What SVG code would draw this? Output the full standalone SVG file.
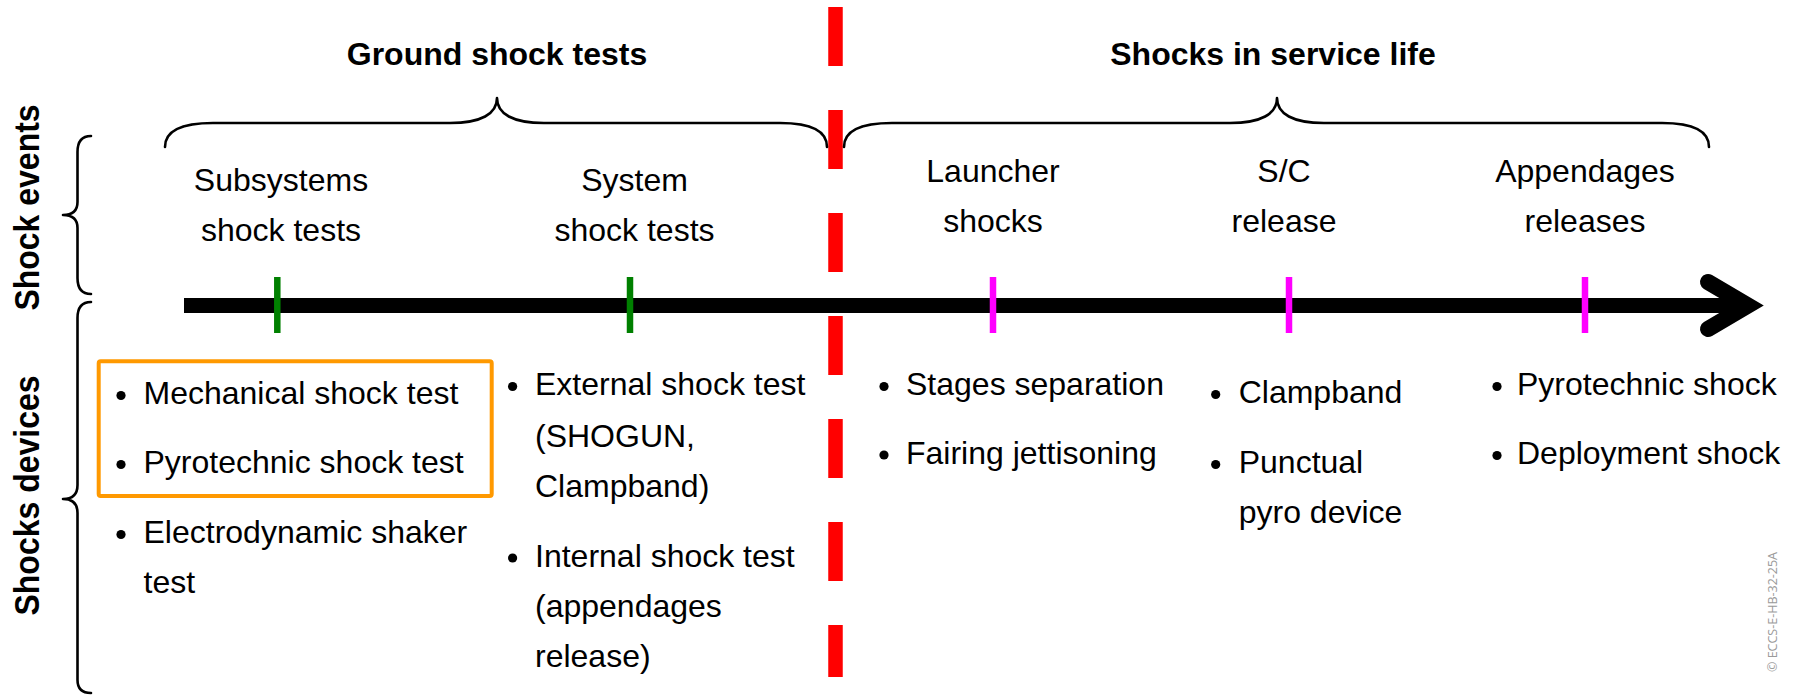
<svg xmlns="http://www.w3.org/2000/svg" width="1805" height="695" viewBox="0 0 1805 695">
<style>
text{font-family:"Liberation Sans",Arial,Helvetica,sans-serif;fill:#000}
.t{font-size:32px}
.h{font-size:32px;font-weight:bold}
.c{text-anchor:middle}
.brace{fill:none;stroke:#000;stroke-width:2.6;stroke-linecap:round;stroke-linejoin:round}
.g{stroke:#008000;stroke-width:6.5}
.m{stroke:#FF00FF;stroke-width:6.5}
.b{fill:#000}
.copy{font-family:"Open Sans","Liberation Sans",sans-serif;font-size:12.5px;fill:#9a9a9a}
</style>
<rect width="1805" height="695" fill="#fff"/>
<g id="connectors">
  <line id="axis" x1="184" y1="305.5" x2="1748" y2="305.5" stroke="#000" stroke-width="15"/>
  <polyline points="1708,282 1748,305.5 1708,329" fill="none" stroke="#000" stroke-width="16" stroke-linecap="round" stroke-linejoin="miter"/>
  <line id="divider" x1="835.5" y1="7" x2="835.5" y2="677" stroke="#FF0000" stroke-width="14.5" stroke-dasharray="59 44"/>
  <path class="brace" d="M165,147 C165,131 180,123 213,123 L450,123 C481,123 497,114 497,98 C497,114 513,123 544,123 L780,123 C812,123 827,131 827,147"/>
  <path class="brace" d="M844,147 C844,131 859,123 892,123 L1230,123 C1261,123 1277,114 1277,98 C1277,114 1293,123 1324,123 L1662,123 C1694,123 1709,131 1709,147"/>
  <path class="brace" d="M91,136 C81,136 77.5,142 77.5,152 L77.5,202 C77.5,210 73,215 63,215 C73,215 77.5,220 77.5,228 L77.5,278 C77.5,288 81,294 91,294"/>
  <path class="brace" d="M91,302 C81,302 77.5,308 77.5,318 L77.5,485 C77.5,494 73,499 63,499 C73,499 77.5,504 77.5,513 L77.5,680 C77.5,688 81,693 91,693"/>
</g>
<g id="ticks">
  <line class="g" x1="277.3" y1="277" x2="277.3" y2="333"/>
  <line class="g" x1="630" y1="277" x2="630" y2="333"/>
  <line class="m" x1="993" y1="277" x2="993" y2="333"/>
  <line class="m" x1="1289" y1="277" x2="1289" y2="333"/>
  <line class="m" x1="1585" y1="277" x2="1585" y2="333"/>
</g>
<g id="title-ground"><text class="h c" x="497" y="65">Ground shock tests</text></g>
<g id="title-service"><text class="h c" x="1273" y="65">Shocks in service life</text></g>
<g id="label-events"><text class="h c" transform="translate(38.5,207.5) rotate(-90) scale(1,1.1)">Shock events</text></g>
<g id="label-devices"><text class="h c" transform="translate(38.5,495.5) rotate(-90) scale(1,1.1)">Shocks devices</text></g>
<g id="event-subsystems"><text class="t c" x="281" y="191">Subsystems</text><text class="t c" x="281" y="241">shock tests</text></g>
<g id="event-system"><text class="t c" x="634.5" y="191">System</text><text class="t c" x="634.5" y="241">shock tests</text></g>
<g id="event-launcher"><text class="t c" x="993" y="182">Launcher</text><text class="t c" x="993" y="232">shocks</text></g>
<g id="event-sc"><text class="t c" x="1284" y="182">S/C</text><text class="t c" x="1284" y="232">release</text></g>
<g id="event-appendages"><text class="t c" x="1585" y="182">Appendages</text><text class="t c" x="1585" y="232">releases</text></g>
<g id="devices-subsystems">
  <rect x="98.7" y="361.3" width="393" height="134.7" rx="2" fill="none" stroke="#FF9900" stroke-width="4"/>
  <circle class="b" cx="121" cy="395.5" r="4.6"/><text class="t" x="143.5" y="404">Mechanical shock test</text>
  <circle class="b" cx="121" cy="464.5" r="4.6"/><text class="t" x="143.5" y="473">Pyrotechnic shock test</text>
  <circle class="b" cx="121" cy="534.5" r="4.6"/><text class="t" x="143.5" y="543">Electrodynamic shaker</text>
  <text class="t" x="143.5" y="593">test</text>
</g>
<g id="devices-system">
  <circle class="b" cx="512.6" cy="386.5" r="4.6"/><text class="t" x="535" y="395">External shock test</text>
  <text class="t" x="535" y="447">(SHOGUN,</text>
  <text class="t" x="535" y="497">Clampband)</text>
  <circle class="b" cx="512.6" cy="558" r="4.6"/><text class="t" x="535" y="567">Internal shock test</text>
  <text class="t" x="535" y="617">(appendages</text>
  <text class="t" x="535" y="667">release)</text>
</g>
<g id="devices-launcher">
  <circle class="b" cx="884" cy="386.5" r="4.6"/><text class="t" x="906" y="395">Stages separation</text>
  <circle class="b" cx="884" cy="455" r="4.6"/><text class="t" x="906" y="463.5">Fairing jettisoning</text>
</g>
<g id="devices-sc">
  <circle class="b" cx="1215.7" cy="394.5" r="4.6"/><text class="t" x="1238.7" y="403">Clampband</text>
  <circle class="b" cx="1215.7" cy="464.5" r="4.6"/><text class="t" x="1238.7" y="473">Punctual</text>
  <text class="t" x="1238.7" y="523">pyro device</text>
</g>
<g id="devices-appendages">
  <circle class="b" cx="1497" cy="386.5" r="4.6"/><text class="t" x="1517" y="395">Pyrotechnic shock</text>
  <circle class="b" cx="1497" cy="455.5" r="4.6"/><text class="t" x="1517" y="464">Deployment shock</text>
</g>
<g id="copyright"><text class="copy c" transform="translate(1777,612) rotate(-90)">© ECCS-E-HB-32-25A</text></g>
</svg>
